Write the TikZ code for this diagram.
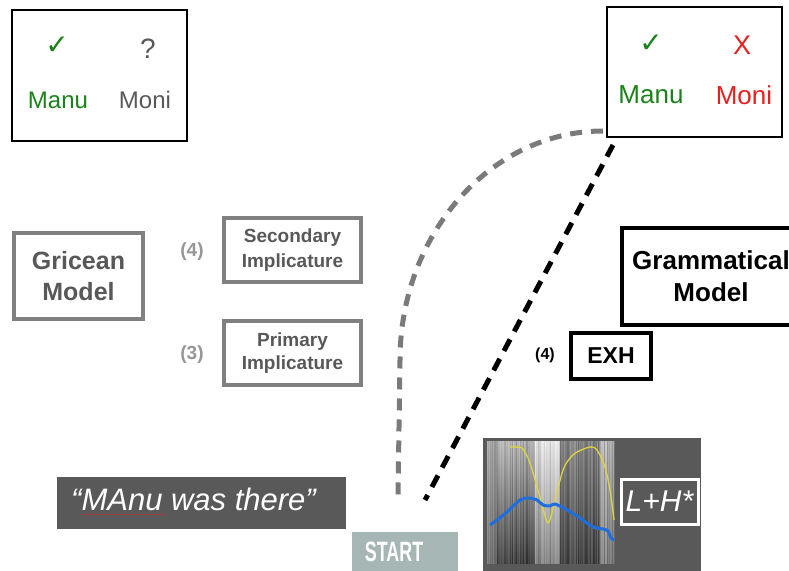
\documentclass[tikz,border=0pt]{standalone}
\usepackage{fontspec}
\usepackage{graphicx}
\setmainfont{Liberation Sans}
\newfontfamily\dejavu{DejaVu Sans}
\definecolor{okgreen}{RGB}{25,130,25}
\definecolor{nored}{RGB}{228,32,32}
\definecolor{txtgray}{RGB}{88,88,88}
\definecolor{boxgray}{RGB}{128,128,128}
\definecolor{numgray}{RGB}{150,150,150}
\definecolor{panel}{RGB}{89,89,89}
\definecolor{startc}{RGB}{165,182,181}
\definecolor{yel}{RGB}{222,212,62}
\definecolor{blu}{RGB}{32,110,220}
\newcommand{\fs}[2]{\fontsize{#1}{#2}\selectfont}
\tikzset{
  judgebox/.style={draw=black, line width=1.5pt, minimum width=175pt, minimum height=131pt, inner sep=0pt},
  lbl/.style={inner sep=0pt, anchor=center},
  gribox/.style={draw=boxgray, line width=3.5pt, inner sep=0pt, align=center, text=txtgray, font=\bfseries\fs{25}{31}},
  impbox/.style={draw=boxgray, line width=3.5pt, inner sep=0pt, align=center, text=txtgray, minimum width=137pt, minimum height=64pt},
  numlbl/.style={inner sep=0pt, text=numgray, font=\bfseries\fs{19}{22}},
  grambox/.style={draw=black, line width=3.5pt, inner sep=0pt, align=center, font=\bfseries\fs{26}{32}},
  graydash/.style={draw=boxgray!95!black, line width=5pt, dash pattern=on 12pt off 9pt},
  blackdash/.style={draw=black, line width=5pt, dash pattern=on 13pt off 9pt},
}
\begin{document}
\begin{tikzpicture}[x=1pt,y=-1pt]
\useasboundingbox (0,0) rectangle (789,570);
\clip (0,0) rectangle (789,570);

% left judgement box
\node[judgebox] (lbox) at (99.5,75.5) {};
\node[lbl, text=okgreen, font=\dejavu\fs{28}{30}] (lcheck) at (57,46) {✓};
\node[lbl, text=txtgray, font=\fs{28}{30}] (lq) at (148,49) {?};
\node[lbl, text=okgreen, font=\fs{24}{28}] (lmanu) at (58,100) {Manu};
\node[lbl, text=txtgray, font=\fs{24}{28}] (lmoni) at (145,100) {Moni};

% right judgement box
\node[judgebox, minimum height=130pt] (rbox) at (694.5,72) {};
\node[lbl, text=okgreen, font=\dejavu\fs{28}{30}] (rcheck) at (651,44) {✓};
\node[lbl, text=nored, font=\fs{27}{30}] (rx) at (742,45) {X};
\node[lbl, text=okgreen, font=\fs{26}{30}] (rmanu) at (651,95) {Manu};
\node[lbl, text=nored, font=\fs{26}{30}] (rmoni) at (744,95) {Moni};

% Gricean model
\node[gribox, minimum width=129pt, minimum height=86pt] (gric) at (78.5,276) {Gricean\\Model};
\node[impbox, font=\bfseries\fs{19}{25}] (second) at (292.5,250) {Secondary\\Implicature};
\node[impbox, font=\bfseries\fs{19}{23}] (primary) at (292.5,353) {Primary\\Implicature};
\node[numlbl] (n4) at (192,252) {(4)};
\node[numlbl] (n3) at (192,355) {(3)};

% Grammatical model
\node[grambox, minimum width=178pt, minimum height=97pt] (gram) at (711,276.5) {Grammatical\\Model};
\node[draw=black, line width=4.5pt, minimum width=80pt, minimum height=46pt, inner sep=0pt, font=\bfseries\fs{23}{26}] (exh) at (611,356) {EXH};
\node[lbl, font=\bfseries\fs{16}{18}] (n4b) at (545,355) {(4)};

% utterance
\node[fill=panel, minimum width=289pt, minimum height=52pt, inner sep=0pt] (utt) at (201.5,503) {};
\node[inner sep=0pt, anchor=base west, text=white, font=\itshape\fs{31}{34}] (utttext) at (71,510) {“MAnu was there”};
\foreach \k in {0,...,41}{
  \fill[nored] (83+2*\k,513.5) rectangle ++(1.2,1.4);
}

% START
\node[fill=startc, minimum width=106pt, minimum height=44pt, inner sep=0pt, anchor=north west] (start) at (352,532) {};
\node[lbl, text=white, font=\bfseries\fs{28}{30}] (starttext) at (394,552) {\scalebox{0.64}[1]{START}};

% spectrogram panel
\node[fill=panel, minimum width=218pt, minimum height=140pt, inner sep=0pt, anchor=north west] (spec) at (483,438) {};
\begin{scope}
\clip (487,441) rectangle (614,563);
\pgfmathsetseed{11}
\foreach \i in {0,...,127}{
  \pgfmathsetmacro\n{10*rand}
  \pgfmathsetmacro\t{min(97,max(15,(\i<10 ? 65 : (\i<48 ? 68 : (\i<73 ? 86 : (\i<113 ? 52 : 70))))+\n))}
  \pgfmathsetmacro\m{min(97,max(15,(\i<10 ? 55 : (\i<48 ? 58 : (\i<73 ? 75 : (\i<113 ? 42 : 60))))+\n))}
  \pgfmathsetmacro\b{min(97,max(15,(\i<10 ? 45 : (\i<48 ? 25 : (\i<73 ? 50 : (\i<113 ? 28 : 50))))+\n))}
  \shade[top color=white!\t!black, middle color=white!\m!black, bottom color=white!\b!black] (487+\i,441) rectangle ++(1.05,122);
}
\end{scope}
\draw[yel, line width=1.3pt] plot[smooth, tension=0.5] coordinates {(510,447) (518,447) (523,449) (530,463) (540,497) (548,523) (555,500) (563,470) (570,458) (577,452) (590,447) (597,450) (605,467) (610,490) (614,520)};
\draw[blu, line width=3pt] plot[smooth, tension=0.5] coordinates {(490,525) (497,520) (507,512) (520,500) (528,498) (537,500) (543,505) (550,506) (555,504) (567,510) (580,518) (593,527) (603,529) (608,531) (611,538) (614,540)};
\node[draw=white, line width=3pt, minimum width=77pt, minimum height=45pt, inner sep=0pt, text=white, font=\itshape\fs{30}{32}] (lh) at (659.5,501.5) {L+H*};

% connectors
\coordinate (gstart) at (603,131);
\coordinate (gbend) at (400,360);
\coordinate (gend) at (398,495);
\draw[graydash] (gstart) .. controls (491,131) and (400,234) .. (gbend) -- (gend);
\coordinate (bstart) at (613,145);
\coordinate (bend) at (425,500);
\draw[blackdash] (bstart) -- (bend);
\end{tikzpicture}
\end{document}
